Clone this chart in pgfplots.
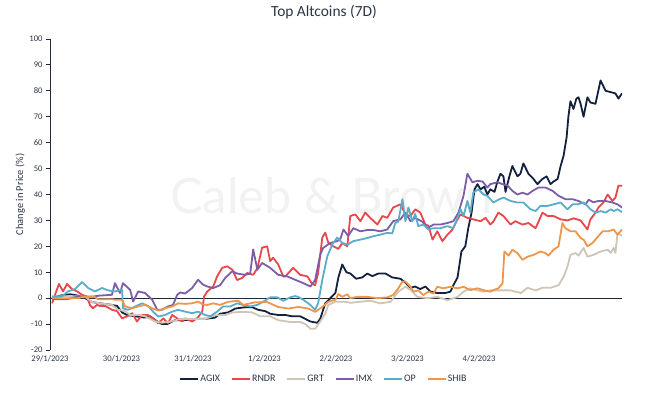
\documentclass[border=0pt]{standalone}
\usepackage{fontspec}
\setmainfont{Carlito}
\newfontfamily\wmfont{Lato}
\usepackage{pgfplots}
\pgfplotsset{compat=1.18}
\definecolor{agix}{HTML}{14213D}
\definecolor{rndr}{HTML}{E8474C}
\definecolor{grt}{HTML}{CFC5B6}
\definecolor{imx}{HTML}{7B5EA7}
\definecolor{op}{HTML}{5AADC9}
\definecolor{shib}{HTML}{F0964B}
\definecolor{axiscol}{HTML}{1F2A3C}
\definecolor{txt}{HTML}{2B3445}
\definecolor{wm}{HTML}{F2F2F2}
\begin{document}
\begin{tikzpicture}
\useasboundingbox (-50bp,-46bp) rectangle (599bp,350bp);
\begin{axis}[
  at={(0,0)}, anchor=south west,
  scale only axis, width=572bp, height=311bp,
  xmin=0, xmax=192, ymin=-20, ymax=100,
  axis y line*=left, axis x line*=bottom,
  x axis line style={draw=none},
  y axis line style={draw=axiscol, line width=0.9bp, -},
  ytick={-20,-10,...,100},
  xtick={0,24,48,72,96,120,144},
  xticklabels={29/1/2023,30/1/2023,31/1/2023,1/2/2023,2/2/2023,3/2/2023,4/2/2023},
  xtick style={draw=none},
  ytick style={draw=axiscol, line width=0.9bp},
  tick align=outside, major tick length=4bp,
  /pgf/number format/assume math mode=true,
  tick label style={font=\fontsize{8.6}{10}\selectfont, text=txt},
  xticklabel style={yshift=1.5bp},
  ylabel={Change in Price (\%)},
  ylabel style={at={(axis description cs:-0.052,0.5)}, anchor=center, font=\fontsize{10.5}{12}\selectfont, text=txt},
  title={Top Altcoins (7D)},
  title style={at={(axis description cs:0.479,1.0675)}, anchor=center, font=\fontsize{15.5}{18}\selectfont, text=txt},
  legend style={at={(0.479,-0.093)}, anchor=center, draw=none, fill=none, legend columns=6,
    font=\fontsize{10}{12}\selectfont, text=txt,
    /tikz/every even column/.append style={column sep=9bp},
    /tikz/every odd column/.append style={column sep=-1bp},
    inner sep=0pt},
  legend image code/.code={\draw[#1, line width=2bp] (0bp,0bp) -- (18bp,0bp);},
  every axis plot/.append style={line width=1.8bp, line join=round},
]
\node[font=\wmfont\fontsize{49}{49}\selectfont, text=wm] at (axis cs:94.4,39.4) {Caleb \& Brown};
\draw[axiscol, line width=0.9bp] (axis cs:0,0) -- (axis cs:192,0);

\addplot[agix] table {
0.7 0
3.4 1
6.7 1.5
9.4 1
11.8 0
14.1 -1.5
16.8 -2
20.2 -2.5
22.5 -3
24.2 -5.5
25.9 -6.5
28.6 -7
31.9 -7.5
33.6 -7
36.0 -9
37.6 -10
39.3 -10
42.0 -8.5
45.4 -8.5
48.7 -8
52.1 -8
55.4 -7.5
57.1 -6
59.8 -5.5
62.2 -4
65.5 -3.5
67.9 -3.5
69.9 -4.5
72.2 -5
73.9 -6
76.6 -6.5
79.0 -6.5
81.3 -7
84.0 -7
85.7 -8
87.4 -9
89.7 -9.5
90.7 -8
92.4 -2
94.1 0
95.8 2
96.8 8
98.1 13
99.5 10
100.8 9.5
102.8 7.5
104.8 8
106.5 9.5
108.2 8.5
110.2 9.5
112.6 9.5
114.9 8
117.6 7.5
119.3 6
121.0 4
122.6 4.5
124.3 3.5
126.0 4.5
127.7 2.5
130.0 2
132.7 2
134.4 2.5
135.4 5
136.8 8
138.1 18
139.4 20
140.4 27
141.5 33
142.5 42
143.5 44
144.5 42
145.8 43
146.8 40
147.8 42
149.2 41
150.2 45
151.2 48
152.2 47
152.9 41
154.2 47
155.2 51
156.9 47
157.9 48
158.9 52
160.6 48
162.3 46
163.6 44
165.3 46
166.7 47
168.0 44
169.0 45
170.4 46
171.4 51
172.4 55
173.4 62
174.0 70
174.7 76
175.7 73
176.7 77
177.4 77.5
178.1 75
179.1 70
180.4 77.5
181.4 75.5
183.1 75
184.8 84
186.5 80
188.2 79.5
189.8 79
190.8 77
192.0 79
};
\addlegendentry{AGIX}

\addplot[rndr] table {
0.7 -2
1.7 1.3
3.0 5.5
4.4 2.6
5.7 5.5
7.4 3.5
9.1 2.6
10.8 1.3
12.4 0.6
13.4 -2.6
14.4 -3.9
15.8 -2.6
16.8 -3
18.5 -3
20.8 -4.5
22.5 -5
24.2 -7.8
25.9 -7
27.6 -5.8
29.2 -9
30.9 -6.5
32.9 -6.5
35.3 -8.4
36.3 -9.7
38.0 -7.8
39.6 -9.7
41.0 -6.5
42.7 -7.8
44.4 -9
45.4 -7.8
47.7 -9
49.4 -7.8
51.1 -5.2
51.7 0.6
52.8 2.6
54.8 4.5
56.1 8.4
57.8 11.7
59.5 12.3
61.2 11
62.8 7
64.5 7.8
66.2 9.7
68.2 9
69.6 11.5
71.2 19.5
72.9 20
73.9 14.3
74.9 15.6
76.6 13
78.3 8.4
79.0 8.4
81.6 11.7
84.0 9
86.4 8.4
88.0 5.5
89.0 5
90.0 9.7
91.4 23.4
92.4 25.3
93.4 21.4
95.1 20
96.8 19
98.1 21.3
99.8 20
100.8 31.7
102.5 32.3
104.2 29.7
105.8 33
107.5 31
109.9 28.4
111.6 31.7
113.2 31
115.2 35
117.6 36.2
119.3 32.3
121.0 31.7
122.6 34.3
124.3 33
126.0 28.4
127.0 28
128.4 22.6
130.0 25.8
131.7 22
133.4 24.5
135.1 26.5
136.8 30.4
137.8 32.3
140.1 31
142.1 30.4
144.5 29.7
146.2 31
147.8 28.4
148.8 29.5
150.5 33
152.2 31.7
154.6 28.4
156.2 29.7
158.6 28.4
160.6 29
163.0 27
165.3 33
167.0 31.7
169.0 31.7
171.4 30.4
173.7 30
175.7 30.8
178.1 30
180.4 26.5
181.4 30.4
183.1 33
184.1 35
185.8 37
187.2 40
188.8 37.5
189.8 38.8
190.8 43.4
192.0 43.4
};
\addlegendentry{RNDR}

\addplot[grt] table {
0.7 0.6
6.7 0.8
11.8 0.6
14.1 -1.5
16.8 -2
20.8 -2.6
22.8 -4.5
25.2 -5
26.9 -6.5
30.2 -6.5
31.9 -7
35.3 -9
37.6 -9.5
41.0 -9
43.7 -8
48.7 -8
52.1 -8
55.4 -6.6
58.8 -6.5
61.2 -5.5
64.5 -5.3
67.9 -5.5
70.6 -7
73.9 -7
76.6 -8.5
80.7 -9.2
84.0 -9.2
85.7 -10
87.4 -11.8
89.0 -11.8
90.7 -9
92.4 -6
93.4 -2.6
95.8 -1.4
99.1 -1.4
100.8 -1.8
104.2 -1.4
107.5 -1
110.9 -2
114.3 -1.4
116.9 2.5
119.3 4.4
121.0 3.2
123.3 0.5
126.7 0
130.0 0.5
133.4 -0.8
136.8 0.5
138.8 2.5
141.1 3.8
143.5 3
145.5 2.5
147.8 3
151.2 3
154.6 3
158.0 2
160.3 4
163.0 3
165.3 4
168.0 4
170.7 5
172.4 8.3
173.7 12.2
174.7 16.7
176.4 17.4
177.4 16.4
179.1 19.4
180.4 16
182.4 16.7
184.8 18
187.2 18.7
188.2 17.5
189.2 19.4
189.8 17.5
190.5 25
191.5 24.5
192.0 23.9
};
\addlegendentry{GRT}

\addplot[imx] table {
0.7 -0.4
5.7 -0.4
9.4 0.6
14.1 0.6
16.8 1
20.8 1.3
21.8 5.8
23.5 2
24.5 5.8
26.9 3.2
27.9 -1.3
29.6 2.6
31.9 2
34.3 -0.6
36.0 -4.5
37.6 -4.5
39.6 -3.2
41.3 -2.6
42.7 1.3
43.7 2.2
45.4 1.8
47.7 3.9
49.7 7.1
51.4 5.2
52.8 4.5
54.8 3.9
57.1 5
58.8 7.8
61.2 10.4
62.8 9.5
65.5 9
67.2 9.5
68.2 18.8
69.6 11
71.2 13.6
73.9 11.7
76.6 9
79.6 8.4
82.3 7.1
85.0 5.8
87.4 4.5
89.0 7
90.7 16.8
91.7 19.4
94.1 21.3
96.4 22
97.5 23
98.5 26.5
100.1 24
101.8 27
104.2 25.8
106.5 26.3
108.5 26.3
110.9 25.8
113.2 26.5
115.2 29.7
117.6 30.4
119.3 33
121.0 29.7
122.6 31
125.0 29.5
126.7 27
128.7 28.4
131.0 28.4
133.4 29
135.4 29.7
137.1 33
138.8 39.5
140.1 48
141.8 44.7
143.5 45.3
145.2 45
146.8 42.7
147.8 44
150.2 44.7
151.9 44
153.6 43.4
155.2 41.4
156.9 40
158.6 40.7
160.3 40
162.0 41.4
164.0 42.7
166.3 42.7
168.7 41.4
170.7 39.5
173.0 38.2
175.4 38.2
177.4 37.5
179.8 36.2
180.8 38
182.4 37
184.1 37.5
186.5 37.5
188.8 36.9
190.5 36.2
192.0 35
};
\addlegendentry{IMX}

\addplot[op] table {
0.7 0.6
4.0 0.6
6.0 2.6
8.4 3.5
10.8 6.2
12.8 3.9
15.1 2.6
17.5 3.9
19.5 3
21.8 2.6
24.2 3.2
24.5 -3.9
26.2 -4.5
28.6 -3.2
30.9 -2
32.9 -3
34.6 -5.2
36.3 -7.1
38.6 -6.5
41.0 -5.2
43.0 -4.5
45.4 -5.2
47.7 -5.8
49.7 -5.2
52.1 -6.5
53.8 -7
56.1 -5.2
58.1 -3.2
60.5 -3.2
62.8 -2
64.8 -2.6
67.2 -3.2
69.6 -2.6
71.6 -1.3
73.9 0.3
76.3 0.3
78.3 -1
80.6 0.3
82.3 0.8
83.3 0.5
85.0 -0.6
87.4 -2.6
89.0 -4.5
90.0 -2
91.4 7.1
93.1 16.2
94.8 20.8
96.4 23.4
98.1 21.3
99.8 20.6
101.8 22
104.2 22.6
106.5 23.2
108.5 23.9
110.9 24.5
113.2 25.2
114.9 25
115.9 29
116.9 29.5
118.3 38.2
119.3 29.7
120.3 35
121.6 29.7
122.6 32.5
123.6 27.8
125.3 28.4
127.0 26.5
128.7 27
131.0 27
133.4 27.8
135.4 27
136.8 31
137.8 34.3
138.8 31.7
140.1 37.5
141.1 33
142.1 40.8
143.8 42
145.5 40
146.8 39.5
148.8 36.9
150.5 38
152.2 38.8
154.6 37.5
156.9 36.9
158.9 36.9
161.3 34.3
163.0 33.6
164.6 35.6
167.0 35.6
169.0 36.2
171.4 36.9
173.7 34.3
175.4 36.2
177.1 36.2
179.1 36.9
180.4 35.6
181.4 34.3
183.1 33
184.8 33.6
186.5 33
188.2 34.3
189.2 33.6
190.5 34.3
192.0 33.2
};
\addlegendentry{OP}

\addplot[shib] table {
0.7 0
9.4 0
10.8 0.4
15.1 0.4
16.1 -0.4
20.8 -0.4
21.8 -0.6
24.2 -0.6
25.2 -3.2
27.6 -3.9
29.6 -3.2
31.9 -2.6
34.3 -3.9
36.3 -4.8
38.6 -3.9
41.0 -3.2
43.0 -2
45.4 -2.2
47.7 -2
49.7 -1.3
51.4 -2.5
52.8 -2.6
54.8 -2
57.1 -2.6
59.8 -1.4
63.2 -1
64.8 -2.6
67.2 -2
68.9 -1.6
72.9 -1.5
76.6 -3.4
80.0 -4
83.3 -3.4
86.7 -4
89.0 -5.3
91.4 -3.4
93.4 -1.4
95.8 -0.6
96.8 1.6
98.1 0.5
99.8 1.5
100.8 0
103.2 0.5
106.5 0.5
109.9 0
113.2 0.3
115.2 1.2
116.9 3.8
118.3 6.4
119.3 6.4
121.0 4.4
122.0 2.5
123.6 3
125.3 1.2
127.0 2.5
128.7 1.8
130.0 4.4
132.0 3.8
134.4 4.4
136.8 3.8
138.8 4.4
141.1 3.1
143.5 3.8
145.5 3.1
147.8 2.5
148.8 3.1
150.5 3.8
151.9 5.7
152.5 18
153.9 16.4
155.2 18.7
156.9 17.4
158.6 14.8
160.3 16
162.3 16.7
164.6 18
166.3 17.4
167.3 16.4
169.0 18.7
170.7 20
172.0 29
173.0 27
174.7 25.8
176.4 25.8
178.1 23.2
179.1 22.6
180.4 20
182.1 21.3
184.1 24
185.5 25.8
187.5 25.8
189.2 26.5
190.5 24.5
192.0 26.5
};
\addlegendentry{SHIB}
\end{axis}
\end{tikzpicture}
\end{document}
